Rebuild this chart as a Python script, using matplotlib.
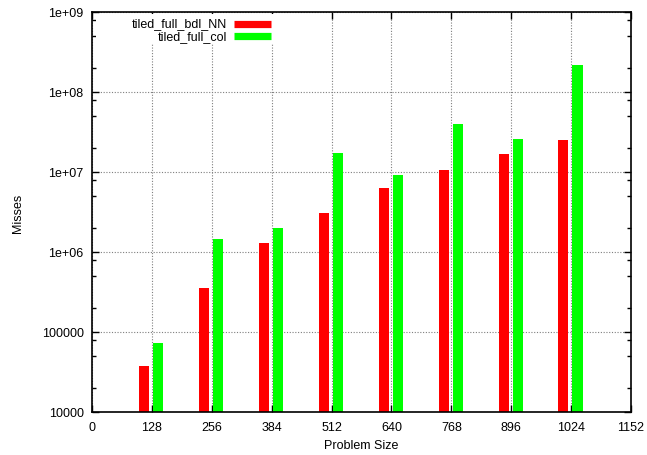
import matplotlib
matplotlib.use("Agg")
import matplotlib.pyplot as plt
from matplotlib.lines import Line2D
from matplotlib.patches import Rectangle
from matplotlib.ticker import FixedLocator, NullFormatter

plt.rcParams['font.family'] = ['Liberation Sans', 'DejaVu Sans']

# Data
problem_sizes = [128, 256, 384, 512, 640, 768, 896, 1024]
bdl_nn_misses = [3.8e4, 3.55e5, 1.28e6, 3.05e6, 6.25e6, 1.06e7, 1.68e7, 2.5e7]
col_misses = [7.3e4, 1.45e6, 2.0e6, 1.73e7, 9.25e6, 4.0e7, 2.58e7, 2.17e8]
series_labels = ["tiled_full_bdl_NN", "tiled_full_col"]
x_ticks = [0, 128, 256, 384, 512, 640, 768, 896, 1024, 1152]
y_ticks = [1e4, 1e5, 1e6, 1e7, 1e8, 1e9]
y_tick_labels = ["10000", "100000", "1e+06", "1e+07", "1e+08", "1e+09"]

RED = "#ff0000"
GREEN = "#00ff00"
bar_w = 21.5
FS = 9

W, H = 647, 456
fig = plt.figure(figsize=(W / 100, H / 100), dpi=100)
ax = fig.add_axes([92 / W, (H - 413) / H, 539 / W, 400 / H])

ax.bar([x - 16.4 for x in problem_sizes], bdl_nn_misses, width=bar_w,
       color=RED, zorder=3, linewidth=0)
ax.bar([x + 13.6 for x in problem_sizes], col_misses, width=bar_w,
       color=GREEN, zorder=3, linewidth=0)

ax.set_yscale("log")
ax.set_xlim(0, 1152)
ax.set_ylim(1e4, 1e9)

ax.set_xticks(x_ticks)
ax.set_xticklabels([str(t) for t in x_ticks])
ax.set_yticks(y_ticks)
ax.set_yticklabels(y_tick_labels)
minor = [k * 10 ** e for e in range(4, 9) for k in (2, 5, 8)]
ax.yaxis.set_minor_locator(FixedLocator(minor))
ax.yaxis.set_minor_formatter(NullFormatter())
ax.xaxis.set_minor_locator(FixedLocator([]))

ax.tick_params(which="major", direction="in", length=5, width=1,
               top=True, right=True, labelsize=FS, colors="black")
ax.tick_params(axis="x", which="major", pad=6.5)
ax.tick_params(axis="y", which="major", pad=6)
ax.tick_params(which="minor", direction="in", length=3, width=1,
               top=True, right=True)

ax.grid(True, which="major", color="#7f7f7f", linestyle=(0, (1, 1.5)),
        linewidth=0.8, zorder=1)
for s in ax.spines.values():
    s.set_linewidth(1.2)
    s.set_zorder(6)

ax.set_xlabel("Problem Size", fontsize=FS)
ax.xaxis.set_label_coords(0.5, -(446 - 413) / 400, transform=ax.transAxes)
ax.xaxis.label.set_va("center")
ax.set_ylabel("Misses", fontsize=FS)
ax.yaxis.set_label_coords(-(92 - 18) / 539, 0.5, transform=ax.transAxes)
ax.yaxis.label.set_va("center")

# Key placed in pixel coordinates near the top-left of the plot area
def px(x, y):
    return x / W, 1 - y / H

key_bg = Rectangle(px(96, 45), (276 - 96) / W, (45 - 15) / H,
                   transform=fig.transFigure, facecolor="white",
                   edgecolor="none", zorder=5)
fig.add_artist(key_bg)
for i, (label, color) in enumerate(zip(series_labels, [RED, GREEN])):
    yy = 24.5 + 12.5 * i
    fig.add_artist(Line2D([234 / W, 271 / W], [1 - yy / H, 1 - yy / H],
                          transform=fig.transFigure, color=color, lw=5.2,
                          solid_capstyle="butt", zorder=6))
    fig.text(227 / W, 1 - yy / H, label, ha="right", va="center",
             fontsize=FS, zorder=6)

fig.savefig("out.png", dpi=100)
